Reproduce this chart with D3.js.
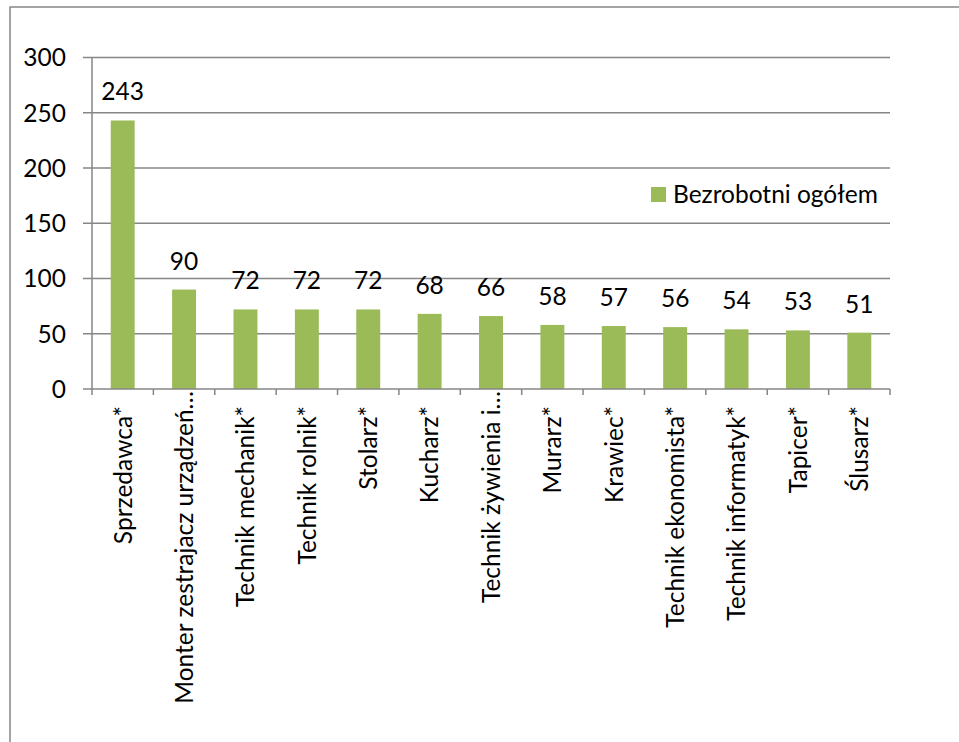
<!DOCTYPE html>
<html>
<head>
<meta charset="utf-8">
<script src="https://cdn.jsdelivr.net/npm/d3@7"></script>
<style>
  body { margin: 0; background: #fff; }
  svg text { font-family: Lato, "Open Sans", sans-serif; fill: #000; }
</style>
</head>
<body>
<svg width="959" height="742"></svg>
<script>
// displayed category labels (Excel truncated two of them)
const categories = [
  "Sprzedawca*",
  "Monter zestrajacz urządzeń…",
  "Technik mechanik*",
  "Technik rolnik*",
  "Stolarz*",
  "Kucharz*",
  "Technik żywienia i…",
  "Murarz*",
  "Krawiec*",
  "Technik ekonomista*",
  "Technik informatyk*",
  "Tapicer*",
  "Ślusarz*"
];
const values = [243, 90, 72, 72, 72, 68, 66, 58, 57, 56, 54, 53, 51];
const yTicks = [0, 50, 100, 150, 200, 250, 300];
const seriesName = "Bezrobotni ogółem";

const barColor = "#9bbb59";
const lineColor = "#868686";
const fontSize = "24.5px";

var svg = d3.select("svg");

// outer chart frame (runs off the right/bottom of the window)
svg.append("rect")
  .attr("x", 10).attr("y", 7)
  .attr("width", 1000).attr("height", 800)
  .attr("fill", "none")
  .attr("stroke", lineColor)
  .attr("stroke-width", 1.5);

var margin = {top: 57.5, left: 92, right: 69, bottom: 353},
  width = 959 - margin.left - margin.right,
  height = 742 - margin.top - margin.bottom,
  g = svg.append("g").attr("transform", "translate(" + margin.left + "," + margin.top + ")");

var x = d3.scaleBand()
  .domain(categories)
  .range([0, width])
  .paddingInner(0.61)
  .paddingOuter(0.305);

var xb = d3.scaleLinear().domain([0, categories.length]).range([0, width]);

var y = d3.scaleLinear()
  .domain([0, 300])
  .range([height, 0]);

// gridlines
g.append("g")
  .selectAll("line")
  .data(yTicks.filter(d => d > 0))
  .join("line")
  .attr("x1", -9).attr("x2", width)
  .attr("y1", d => y(d)).attr("y2", d => y(d))
  .attr("stroke", lineColor)
  .attr("stroke-width", 1.5);

g.append("g")
  .selectAll("text")
  .data(yTicks)
  .join("text")
  .attr("x", -26)
  .attr("y", d => y(d))
  .attr("dy", "0.36em")
  .attr("text-anchor", "end")
  .style("font-size", fontSize)
  .text(d => d);

// bars
g.append("g")
  .selectAll("rect")
  .data(values)
  .join("rect")
  .attr("x", (d, i) => x(categories[i]))
  .attr("y", d => y(d))
  .attr("width", x.bandwidth())
  .attr("height", d => y(0) - y(d))
  .attr("fill", barColor);

// value labels
g.append("g")
  .selectAll("text")
  .data(values)
  .join("text")
  .attr("x", (d, i) => x(categories[i]) + x.bandwidth() / 2)
  .attr("y", d => y(d) - 20)
  .attr("text-anchor", "middle")
  .style("font-size", fontSize)
  .text(d => d);

// axis lines
g.append("line")
  .attr("x1", 0).attr("x2", 0)
  .attr("y1", 0).attr("y2", height)
  .attr("stroke", lineColor).attr("stroke-width", 1.5);

g.append("line")
  .attr("x1", -9).attr("x2", width)
  .attr("y1", height).attr("y2", height)
  .attr("stroke", lineColor).attr("stroke-width", 1.5);

g.append("g")
  .selectAll("line")
  .data(d3.range(categories.length + 1))
  .join("line")
  .attr("x1", d => xb(d)).attr("x2", d => xb(d))
  .attr("y1", height).attr("y2", height + 6)
  .attr("stroke", lineColor).attr("stroke-width", 1.5);

// rotated category labels (truncated ones sit closer to the axis)
g.append("g")
  .selectAll("text")
  .data(categories)
  .join("text")
  .attr("transform", d => "translate(" + (x(d) + x.bandwidth() / 2) + "," +
    (height + (d.endsWith("…") ? 2 : 17)) + ") rotate(-90)")
  .attr("dy", "0.36em")
  .attr("text-anchor", "end")
  .style("font-size", fontSize)
  .text(d => d);

// legend
var legend = svg.append("g").attr("transform", "translate(651,187)");
legend.append("rect")
  .attr("width", 15).attr("height", 15)
  .attr("fill", barColor);
legend.append("text")
  .attr("x", 22).attr("y", 7.5)
  .attr("dy", "0.36em")
  .style("font-size", fontSize)
  .text(seriesName);
</script>
</body>
</html>
